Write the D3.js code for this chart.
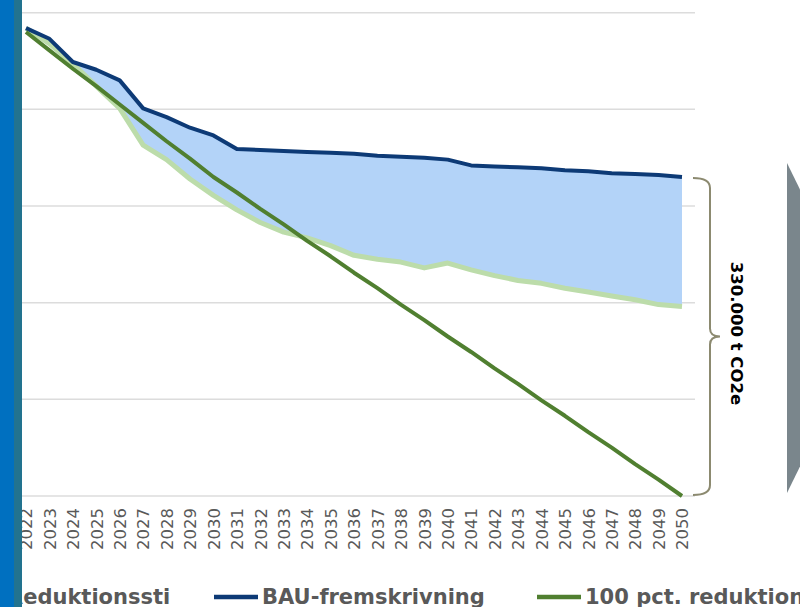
<!DOCTYPE html>
<html>
<head>
<meta charset="utf-8">
<script src="https://cdn.jsdelivr.net/npm/d3@7"></script>
<style>
  html, body { margin: 0; padding: 0; background: #fff; }
  svg { display: block; }
</style>
</head>
<body>
<svg id="chart" width="800" height="607"></svg>
<script>
// ---- data (thousand t CO2e) ----
const years = [2022,2023,2024,2025,2026,2027,2028,2029,2030,2031,2032,2033,2034,2035,
               2036,2037,2038,2039,2040,2041,2042,2043,2044,2045,2046,2047,2048,2049,2050];
const bau = [484,473,449,441,430,401,392,381,373,359,358,357,356,355,
             354,352,351,350,348,342,341,340,339,337,336,334,333,332,330];
const reduktionssti = [484,468,447,424,401,363,348,328,311,296,283,273,267,259,
                       249,245,242,236,241,234,228,223,220,215,211,207,203,198,196];
const fuldReduktion = [480,461,442,424,405,386,367,349,330,314,297,281,264,248,
                       231,215,198,182,165,149,132,116,99,83,66,50,33,17,0];
const gridValues = [0,100,200,300,400,500];
const legendLabels = ["Reduktionssti", "BAU-fremskrivning", "100 pct. reduktion"];
const bracketLabel = "330.000 t CO2e";

(function () {
// ---- setup ----
const svg = d3.select("#chart");
const x = d3.scalePoint().domain(years).range([26, 682]);
const y = d3.scaleLinear().domain([0, 500]).range([496, 12.7]);

// gridlines
svg.append("g").selectAll("line").data(gridValues).join("line")
  .attr("x1", 0).attr("x2", 695)
  .attr("y1", d => y(d)).attr("y2", d => y(d))
  .attr("stroke", "#dcdcdc").attr("stroke-width", 1.5);

// area between BAU and reduction path
const idx = d3.range(years.length);
const area = d3.area()
  .x(i => x(years[i]))
  .y0(i => y(reduktionssti[i]))
  .y1(i => y(bau[i]));
svg.append("path").datum(idx).attr("d", area).attr("fill", "#b3d3f8");

const lineOf = arr => d3.line().x(i => x(years[i])).y(i => y(arr[i]));

svg.append("path").datum(idx).attr("d", lineOf(reduktionssti))
  .attr("fill", "none").attr("stroke", "#bcdcaa").attr("stroke-width", 5)
  .attr("stroke-linejoin", "round");
svg.append("path").datum(idx).attr("d", lineOf(bau))
  .attr("fill", "none").attr("stroke", "#0d3a76").attr("stroke-width", 4)
  .attr("stroke-linejoin", "round");
svg.append("path").datum(idx).attr("d", lineOf(fuldReduktion))
  .attr("fill", "none").attr("stroke", "#507f30").attr("stroke-width", 4)
  .attr("stroke-linejoin", "round");

// x axis
const xAxis = d3.axisBottom(x).tickSize(0).tickPadding(0);
const gx = svg.append("g").attr("transform", `translate(0,${y(0)})`).call(xAxis);
gx.select(".domain").remove();
gx.selectAll("text")
  .attr("transform", "rotate(-90)")
  .attr("x", -12).attr("y", 0).attr("dy", "0.35em")
  .attr("text-anchor", "end")
  .attr("fill", "#595959")
  .style("font-family", "'DejaVu Sans', Verdana, sans-serif")
  .style("font-size", "16.5px");

// bracket
const bx = 710, bTop = y(bau[bau.length - 1]) + 1, bBot = y(0) - 1, bMid = (bTop + bBot) / 2;
const bp = d3.path();
bp.moveTo(693, bTop);
bp.quadraticCurveTo(bx, bTop, bx, bTop + 10);
bp.lineTo(bx, bMid - 8);
bp.quadraticCurveTo(bx, bMid, bx + 10, bMid);
bp.quadraticCurveTo(bx, bMid, bx, bMid + 8);
bp.lineTo(bx, bBot - 10);
bp.quadraticCurveTo(bx, bBot, 693, bBot);
svg.append("path").attr("d", bp.toString())
  .attr("fill", "none").attr("stroke", "#8c8a70").attr("stroke-width", 2);

svg.append("text")
  .attr("transform", `translate(737,${bMid - 3}) rotate(90)`)
  .attr("text-anchor", "middle").attr("dy", "0.35em")
  .attr("fill", "#000")
  .style("font-family", "'DejaVu Sans', Verdana, sans-serif")
  .style("font-weight", "bold").style("font-size", "16.5px")
  .text(bracketLabel);

// gray arrow shape on right
svg.append("path")
  .attr("d", d3.line()([[787, 163], [868, 328], [787, 493]]) + "Z")
  .attr("fill", "#7a868c");

// legend
const lg = svg.append("g")
  .style("font-family", "'DejaVu Sans', Verdana, sans-serif")
  .style("font-weight", "bold").style("font-size", "21px")
  .attr("fill", "#595959");
lg.append("text").attr("x", 7).attr("y", 604).text(legendLabels[0]);
lg.append("line").attr("x1", 214).attr("x2", 258).attr("y1", 597).attr("y2", 597)
  .attr("stroke", "#0d3a76").attr("stroke-width", 4.5);
lg.append("text").attr("x", 262).attr("y", 604).text(legendLabels[1]);
lg.append("line").attr("x1", 537).attr("x2", 581).attr("y1", 597).attr("y2", 597)
  .attr("stroke", "#507f30").attr("stroke-width", 4.5);
lg.append("text").attr("x", 585).attr("y", 604).text(legendLabels[2]);

// left edge bars
svg.append("rect").attr("x", 0).attr("y", 0).attr("width", 14).attr("height", 607).attr("fill", "#0070c0");
svg.append("rect").attr("x", 14).attr("y", 0).attr("width", 8).attr("height", 607).attr("fill", "#22738f");
})();
</script>
</body>
</html>
